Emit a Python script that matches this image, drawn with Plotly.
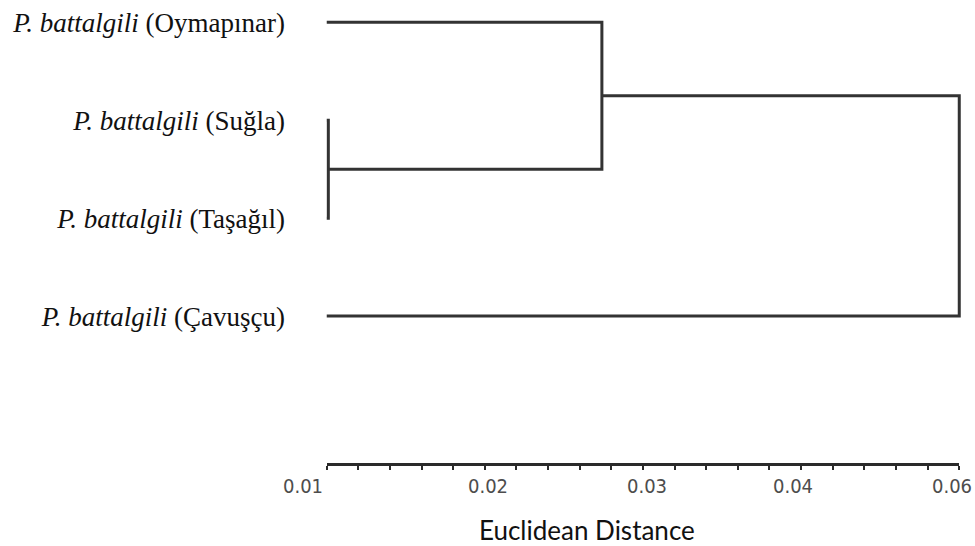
import plotly.graph_objects as go

# Leaves (top to bottom) and their labels
leaf_names = ["Oymapınar", "Suğla", "Taşağıl", "Çavuşçu"]
leaf_labels = ["<i>P. battalgili</i> (" + n + ")" for n in leaf_names]

# Distance at which the leaves start (left end of the distance axis)
leaf_base = 0.01

# Agglomeration steps: (left node, right node, merge distance)
# nodes 0..3 are leaves, 4.. are the clusters created in order
merges = [
    (1, 2, 0.0101),   # Suğla + Taşağıl
    (0, 4, 0.0274),   # Oymapınar + (Suğla, Taşağıl)
    (5, 3, 0.0500),   # all + Çavuşçu
]

# Distance axis: tick marks every 0.002, labels every 0.01
tick_values = [round(0.01 + 0.002 * i, 4) for i in range(21)]
label_values = [0.01, 0.02, 0.03, 0.04, 0.05]
label_texts = ["0.01", "0.02", "0.03", "0.04", "0.06"]
label_shift_px = [-24, 3, 4, -8, -7]   # horizontal nudge of each label

x_range = [0.0097, 0.0503]
y_range = [4.5, -0.115]

# Build the dendrogram branches (horizontal + vertical U shapes)
node_pos = {i: float(i) for i in range(len(leaf_names))}
node_h = {i: leaf_base for i in range(len(leaf_names))}
xs, ys = [], []
for k, (a, b, h) in enumerate(merges):
    ya, yb = node_pos[a], node_pos[b]
    xs += [node_h[a], h, h, node_h[b], None]
    ys += [ya, ya, yb, yb, None]
    nid = len(leaf_names) + k
    node_pos[nid] = (ya + yb) / 2
    node_h[nid] = h

fig = go.Figure()
# carrier trace for the visible distance axis
fig.add_trace(go.Scatter(
    x=[tick_values[0], tick_values[-1]], y=[y_range[0], y_range[0]],
    xaxis="x2", mode="markers", marker=dict(opacity=0),
    hoverinfo="skip", showlegend=False,
))
fig.add_trace(go.Scatter(
    x=xs, y=ys, mode="lines",
    line=dict(color="#333333", width=3),
    hoverinfo="skip", showlegend=False, cliponaxis=False,
))

# visible axis spans exactly the labelled distance interval
eps = 1e-6
ax2_range = [tick_values[0] - eps, tick_values[-1] + eps]
span = x_range[1] - x_range[0]
dom = [(ax2_range[0] - x_range[0]) / span, (ax2_range[1] - x_range[0]) / span]

plot_h = 546 - 8 - 83
annotations = [dict(
    text=t, x=v, xref="x2", yref="paper", y=-(486 - 463) / plot_h,
    xanchor="center", yanchor="middle", showarrow=False, xshift=s,
    font=dict(family="DejaVu Sans Condensed, Liberation Sans Narrow, sans-serif",
              size=20, color="#4d4d4d"),
) for v, t, s in zip(label_values, label_texts, label_shift_px)]
annotations.append(dict(
    text="Euclidean Distance", xref="paper", yref="paper",
    x=(587 - 322) / 642, y=-(530 - 463) / plot_h,
    xanchor="center", yanchor="middle", showarrow=False,
    font=dict(family="Lato, Open Sans, sans-serif", size=26, color="#111111"),
))

fig.update_layout(
    width=975, height=546,
    margin=dict(l=322, r=11, t=8, b=83),
    paper_bgcolor="white", plot_bgcolor="rgba(0,0,0,0)",
    xaxis=dict(range=x_range, visible=False, showgrid=False, zeroline=False),
    xaxis2=dict(
        domain=dom, range=ax2_range, anchor="y",
        showline=True, linewidth=3, linecolor="#2a2a2a",
        ticks="outside", ticklen=4, tickwidth=2, tickcolor="#2a2a2a",
        tickmode="array", tickvals=tick_values, showticklabels=False,
        showgrid=False, zeroline=False, fixedrange=True,
    ),
    yaxis=dict(
        range=y_range, showgrid=False, zeroline=False, showline=False,
        tickmode="array", tickvals=list(range(len(leaf_labels))),
        ticktext=leaf_labels, ticks="", ticklabelstandoff=36,
        tickfont=dict(family="Liberation Serif, Times New Roman, serif",
                      size=27, color="#111111"),
    ),
    annotations=annotations,
)

fig.write_html("out.html")
